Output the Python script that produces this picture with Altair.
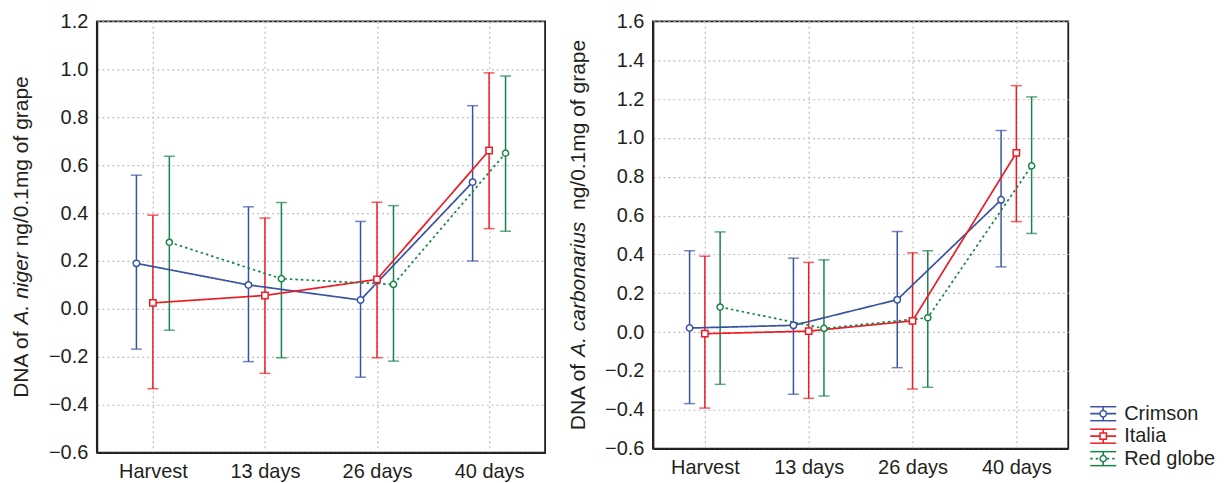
import json
import altair as alt
import pandas as pd

# ---------------- data ----------------
categories = ["Harvest", "13 days", "26 days", "40 days"]
series = ["Crimson", "Italia", "Red globe"]

# A. niger panel
niger_crimson_mean = [0.190, 0.100, 0.037, 0.529]
niger_crimson_low = [-0.168, -0.220, -0.285, 0.200]
niger_crimson_high = [0.558, 0.426, 0.365, 0.848]
niger_italia_mean = [0.025, 0.056, 0.123, 0.661]
niger_italia_low = [-0.333, -0.269, -0.204, 0.335]
niger_italia_high = [0.391, 0.379, 0.445, 0.985]
niger_redglobe_mean = [0.278, 0.126, 0.102, 0.650]
niger_redglobe_low = [-0.089, -0.204, -0.218, 0.324]
niger_redglobe_high = [0.637, 0.444, 0.431, 0.972]

# A. carbonarius panel
carb_crimson_mean = [0.021, 0.035, 0.167, 0.681]
carb_crimson_low = [-0.368, -0.320, -0.183, 0.336]
carb_crimson_high = [0.419, 0.381, 0.518, 1.038]
carb_italia_mean = [-0.008, 0.005, 0.058, 0.923]
carb_italia_low = [-0.391, -0.341, -0.293, 0.569]
carb_italia_high = [0.391, 0.359, 0.408, 1.269]
carb_redglobe_mean = [0.129, 0.019, 0.074, 0.856]
carb_redglobe_low = [-0.269, -0.329, -0.284, 0.508]
carb_redglobe_high = [0.516, 0.372, 0.419, 1.211]

niger_ticks = [-0.6, -0.4, -0.2, 0.0, 0.2, 0.4, 0.6, 0.8, 1.0, 1.2]
carb_ticks = [-0.6, -0.4, -0.2, 0.0, 0.2, 0.4, 0.6, 0.8, 1.0, 1.2, 1.4, 1.6]

# ---------------- styling ----------------
FONT = "Liberation Sans"
TEXT = "#231F20"
colors = ["#3953A4", "#ED1C24", "#19844A"]
dashes = [[1, 0], [1, 0], [2.5, 3]]
shapes = ["circle", "square", "circle"]
sizes = [42, 38, 22]
dodge = {"Crimson": -0.147, "Italia": 0.0, "Red globe": 0.147}

# Arial / Liberation Sans advance widths (per 1000 em) for title layout
ADV = {" ": 278, "D": 722, "N": 722, "A": 667, "o": 556, "f": 278, ".": 278,
       "n": 556, "i": 222, "g": 556, "e": 556, "r": 333, "/": 278, "0": 556,
       "1": 556, "m": 833, "a": 556, "p": 556, "c": 500, "b": 556, "u": 556,
       "s": 500}


def text_width(s, size):
    return sum(ADV.get(ch, 556) for ch in s) * size / 1000.0


def make_df(means, lows, highs):
    rows = []
    for s, m, lo, hi in zip(series, means, lows, highs):
        for i, c in enumerate(categories):
            rows.append({"category": c, "series": s, "xpos": i + dodge[s],
                         "mean": m[i], "low": lo[i], "high": hi[i]})
    return pd.DataFrame(rows)


niger_df = make_df([niger_crimson_mean, niger_italia_mean, niger_redglobe_mean],
                   [niger_crimson_low, niger_italia_low, niger_redglobe_low],
                   [niger_crimson_high, niger_italia_high, niger_redglobe_high])
carb_df = make_df([carb_crimson_mean, carb_italia_mean, carb_redglobe_mean],
                  [carb_crimson_low, carb_italia_low, carb_redglobe_low],
                  [carb_crimson_high, carb_italia_high, carb_redglobe_high])

label_expr = json.dumps(categories) + "[datum.value]"

color_scale = alt.Scale(domain=series, range=colors)
dash_scale = alt.Scale(domain=series, range=dashes)
shape_scale = alt.Scale(domain=series, range=shapes)
size_scale = alt.Scale(domain=series, range=sizes)

TITLE_SIZE = 21


def title_layers(parts, italics, h, xoff):
    total = sum(text_width(p, TITLE_SIZE) for p in parts)
    start = h / 2 + total / 2
    layers = []
    cum = 0.0
    for p, it in zip(parts, italics):
        lead = len(p) - len(p.lstrip(" "))
        pos = start - cum - text_width(" " * lead, TITLE_SIZE)
        layers.append(
            alt.Chart(pd.DataFrame({"t": [p.strip()]}))
            .mark_text(angle=270, align="left", baseline="alphabetic",
                       fontSize=TITLE_SIZE, font=FONT, color=TEXT,
                       fontStyle="italic" if it else "normal")
            .encode(x=alt.value(xoff), y=alt.value(pos), text="t:N")
        )
        cum += text_width(p, TITLE_SIZE)
    return layers


def panel(df, ticks, w, h, parts, italics, xoff):
    xscale = alt.Scale(domain=[-0.5, 3.5], nice=False, zero=False)
    xaxis = alt.Axis(values=[0, 1, 2, 3], labelExpr=label_expr,
                     title=None, grid=True, ticks=False, tickSize=0,
                     labelPadding=9, domain=True, domainColor=TEXT,
                     domainWidth=1.8)
    yscale = alt.Scale(domain=[ticks[0], ticks[-1]], nice=False, zero=False)
    yaxis = alt.Axis(values=ticks, format=".1f", title=None, grid=True,
                     ticks=False, tickSize=0, labelPadding=9, domain=True,
                     domainColor=TEXT, domainWidth=1.8, labelOverlap=False)

    def X():
        return alt.X("xpos:Q", scale=xscale, axis=xaxis)

    def Y(field):
        return alt.Y(field + ":Q", scale=yscale, axis=yaxis)

    color = alt.Color("series:N", scale=color_scale, legend=None)
    base = alt.Chart(df)
    bars = base.mark_rule(strokeWidth=1.5).encode(
        x=X(), y=Y("low"), y2="high:Q", color=color)
    cap_lo = base.mark_tick(orient="horizontal", size=11, thickness=1.5).encode(
        x=X(), y=Y("low"), color=color)
    cap_hi = base.mark_tick(orient="horizontal", size=11, thickness=1.5).encode(
        x=X(), y=Y("high"), color=color)
    lines = base.mark_line(strokeWidth=1.7).encode(
        x=X(), y=Y("mean"), color=color, detail="series:N",
        strokeDash=alt.StrokeDash("series:N", scale=dash_scale, legend=None))
    points = base.mark_point(strokeWidth=1.5, opacity=1, fillOpacity=1).encode(
        x=X(), y=Y("mean"),
        stroke=alt.Stroke("series:N", scale=color_scale, legend=None),
        fill=alt.value("white"),
        shape=alt.Shape("series:N", scale=shape_scale, legend=None),
        size=alt.Size("series:O", scale=size_scale, legend=None))
    layers = [bars, cap_lo, cap_hi, lines, points] + title_layers(parts, italics, h, xoff)
    return alt.layer(*layers).properties(width=w, height=h)


left = panel(niger_df, niger_ticks, 449, 432,
             ["DNA of ", "A. niger", " ng/0.1mg of grape"], [False, True, False], -69)
right = panel(carb_df, carb_ticks, 416, 428,
              ["DNA of ", "A. carbonarius", "  ng/0.1mg of grape"], [False, True, False], -68)

# ---------------- legend panel ----------------
ldf = pd.DataFrame({"series": series, "row": list(range(len(series)))})
lscale = alt.Scale(domain=[0, len(series) - 1], range=[393, 438], nice=False, zero=False)
ly = alt.Y("row:Q", scale=lscale, axis=None)
lcolor = alt.Color("series:N", scale=color_scale, legend=None)
LX0, LX1, LXC, LXT = -86, -60, -73, -52
lbase = alt.Chart(ldf)
leg_top = lbase.mark_rule(strokeWidth=1.5, yOffset=-7).encode(
    x=alt.value(LX0), x2=alt.value(LX1), y=ly, color=lcolor)
leg_bot = lbase.mark_rule(strokeWidth=1.5, yOffset=7).encode(
    x=alt.value(LX0), x2=alt.value(LX1), y=ly, color=lcolor)
leg_mid = lbase.mark_rule(strokeWidth=1.7).encode(
    x=alt.value(LX0), x2=alt.value(LX1), y=ly, color=lcolor,
    strokeDash=alt.StrokeDash("series:N", scale=dash_scale, legend=None))
leg_vert = lbase.mark_rule(strokeWidth=1.5, yOffset=-7, y2Offset=7).encode(
    x=alt.value(LXC), y=ly, y2="row:Q", color=lcolor)
leg_pts = lbase.mark_point(strokeWidth=1.5, opacity=1, fillOpacity=1).encode(
    x=alt.value(LXC), y=ly,
    stroke=alt.Stroke("series:N", scale=color_scale, legend=None),
    fill=alt.value("white"),
    shape=alt.Shape("series:N", scale=shape_scale, legend=None),
    size=alt.Size("series:O", scale=size_scale, legend=None))
leg_txt = lbase.mark_text(align="left", baseline="middle", fontSize=20,
                          font=FONT, color=TEXT).encode(
    x=alt.value(LXT), y=ly, text="series:N")
legend = alt.layer(leg_top, leg_bot, leg_mid, leg_vert, leg_pts, leg_txt).properties(
    width=54, height=440, view=alt.ViewBackground(stroke="transparent"))

chart = (
    alt.hconcat(left, right, legend, spacing=108, bounds="flush")
    .properties(padding={"left": 10, "top": 10, "right": 0, "bottom": 0},
                background="white")
    .configure_view(stroke=TEXT, strokeWidth=1.8)
    .configure_axis(labelFont=FONT, labelFontSize=20, labelColor=TEXT,
                    gridColor="#BDBDBD", gridDash=[2, 3], gridWidth=1.2)
)

chart.save("out.html", embed_options={"renderer": "svg", "actions": False})
